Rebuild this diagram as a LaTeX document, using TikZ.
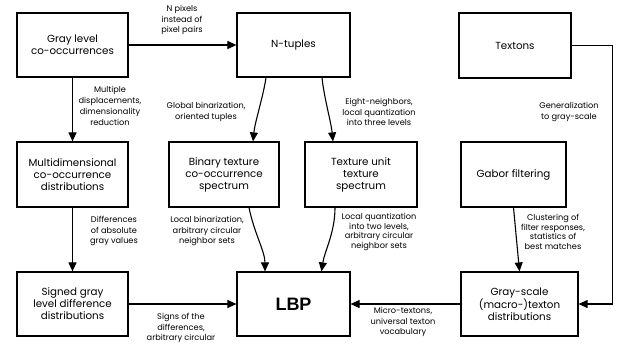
\documentclass[tikz,border=0pt]{standalone}
\usepackage{fontspec}
\setmainfont{Poppins}
\newfontfamily\lbpfont{Liberation Sans}
\usetikzlibrary{arrows.meta,calc}
\begin{document}
\begin{tikzpicture}[x=1pt,y=-1pt,
 box/.style={draw,line width=1.2pt,align=center,font=\fontsize{10.3}{12}\selectfont,inner sep=0pt},
 lab/.style={align=center,font=\fontsize{8.2}{10.8}\selectfont,inner sep=0pt},
 arr/.style={line width=1.1pt,-{Triangle[length=9pt,width=8pt]}}]
\useasboundingbox[fill=white] (0,0) rectangle (617,345);
% boxes
\node[box,minimum width=111pt,minimum height=64pt] (glc) at (72.5,45) {Gray level\\co-occurrences};
\node[box,minimum width=113pt,minimum height=64pt] (ntup) at (293.5,45) {N-tuples};
\node[box,minimum width=112pt,minimum height=65pt] (txt) at (515,45.5) {Textons};
\node[box,minimum width=111pt,minimum height=65pt] (multi) at (72.5,174.5) {Multidimensional\\co-occurrence\\distributions};
\node[box,minimum width=110pt,minimum height=65pt] (bin) at (224,174.5) {Binary texture\\co-occurrence\\spectrum};
\node[box,minimum width=112pt,minimum height=65pt] (tex) at (361,174.5) {Texture unit\\texture\\spectrum};
\node[box,minimum width=105pt,minimum height=65pt] (gab) at (513.5,174.5) {Gabor filtering};
\node[box,minimum width=111pt,minimum height=64pt] (sgn) at (72.5,304) {Signed gray\\level difference\\distributions};
\node[box,minimum width=113pt,minimum height=64pt,font=\lbpfont\bfseries\fontsize{18}{20}\selectfont] (lbp) at (293.5,304) {LBP};
\node[box,minimum width=117pt,minimum height=64pt] (gsd) at (519.5,304) {Gray-scale\\(macro-)texton\\distributions};
% connectors
\draw[arr] (glc.east) -- (ntup.west);
\draw[arr] (glc.south) -- (multi.north);
\draw[arr] (multi.south) -- (sgn.north);
\draw[arr] (sgn.east) -- (lbp.west);
\draw[arr] (gsd.west) -- (lbp.east);
\draw[arr] (gab.south) -- (gsd.north);
\coordinate (c1) at ($(txt.east)+(41,0)$);
\coordinate (c2) at (c1 |- gsd.east);
\draw[arr] (txt.east) -- (c1) -- (c2) -- (gsd.east);
\draw[arr] ([xshift=-27.5pt]ntup.south) .. controls +(-3,20) and +(2,-20) .. ([xshift=29pt]bin.north);
\draw[arr] ([xshift=28.5pt]ntup.south) .. controls +(2,20) and +(-2,-20) .. ([xshift=-28pt]tex.north);
\draw[arr] ([xshift=25pt]bin.south) .. controls +(5,25) and +(0,-20) .. ([xshift=-28.5pt]lbp.north);
\draw[arr] ([xshift=-26pt]tex.south) .. controls +(0,25) and +(3,-20) .. ([xshift=28pt]lbp.north);
% labels
\node[lab] (l1) at (182,20) {N pixels\\instead of\\pixel pairs};
\node[lab] (l2) at (110,106) {Multiple\\displacements,\\dimensionality\\reduction};
\node[lab] (l3) at (206,112) {Global binarization,\\oriented tuples};
\node[lab] (l4) at (379,112) {Eight-neighbors,\\local quantization\\into three levels};
\node[lab] (l5) at (569,112) {Generalization\\to gray-scale};
\node[lab] (l6) at (114,231) {Differences\\of absolute\\gray values};
\node[lab] (l7) at (207,231) {Local binarization,\\arbitrary circular\\neighbor sets};
\node[lab,font=\fontsize{8.2}{9.6}\selectfont] (l8) at (379,232) {Local quantization\\into two levels,\\arbitrary circular\\neighbor sets};
\node[lab,font=\fontsize{8.2}{9.6}\selectfont] (l9) at (553,232) {Clustering of\\filter responses,\\statistics of\\best matches};
\node[lab] (l10) at (181,328) {Signs of the\\differences,\\arbitrary circular};
\node[lab] (l11) at (403,322) {Micro-textons,\\universal texton\\vocabulary};
\end{tikzpicture}
\end{document}
